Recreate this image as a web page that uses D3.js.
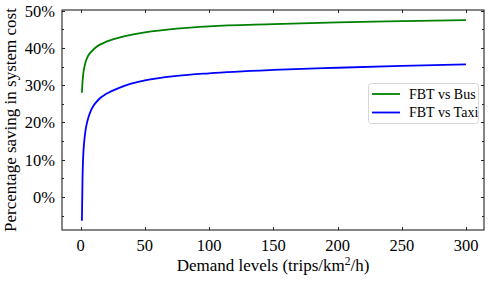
<!DOCTYPE html>
<html>
<head>
<meta charset="utf-8">
<script src="https://cdn.jsdelivr.net/npm/d3@7"></script>
<style>
  body { margin: 0; background: #fff; }
  svg text { font-family: "Liberation Serif", "Times New Roman", serif; fill: #000; }
</style>
</head>
<body>
<div id="chart"></div>
<script>
// demand levels (trips/km2/h) and savings (%)
var demand   = [1, 1.5, 2, 3, 4, 5, 6, 8, 10, 12, 15, 20, 30, 40, 50, 75, 100, 150, 200, 250, 300];
var fbtBus   = [28.0, 31.0, 32.9, 35.0, 36.4, 37.3, 38.0, 38.9, 39.6, 40.2, 40.9, 41.7, 42.8, 43.6, 44.2, 45.2, 45.8, 46.4, 46.9, 47.2, 47.5];
var fbtTaxi  = [-6.4, 5.5, 10.8, 15.6, 18.3, 20.0, 21.3, 23.2, 24.5, 25.4, 26.5, 27.7, 29.3, 30.5, 31.3, 32.5, 33.2, 34.1, 34.7, 35.2, 35.6];
var seriesNames = ["FBT vs Bus", "FBT vs Taxi"];
var seriesColors = ["#008000", "#0000ff"];
var xTicks = [0, 50, 100, 150, 200, 250, 300];
var yTicks = [0, 10, 20, 30, 40, 50];
var yMinor = [-5, 5, 15, 25, 35, 45];

var W = 490, H = 282;
var margin = {top: 10, right: 6, bottom: 52, left: 62},
    width = W - margin.left - margin.right,
    height = H - margin.top - margin.bottom;

var svg = d3.select("#chart")
  .append("svg")
    .attr("width", W)
    .attr("height", H)
  .append("g")
    .attr("transform", "translate(" + margin.left + "," + margin.top + ")");

var x = d3.scaleLinear()
  .domain([-14.5, 314])
  .range([0, width]);

var y = d3.scaleLinear()
  .domain([-8.86, 50.2])
  .range([height, 0]);

// ticks (inward, all four sides)
var tickG = svg.append("g").attr("stroke", "#222").attr("stroke-width", 1);
xTicks.forEach(function(t) {
  var px = Math.round(x(t)) + 0.5;
  tickG.append("line").attr("x1", px).attr("x2", px).attr("y1", height).attr("y2", height - 3);
  tickG.append("line").attr("x1", px).attr("x2", px).attr("y1", 0).attr("y2", 3);
});
yTicks.concat(yMinor).forEach(function(t) {
  var py = Math.round(y(t)) + 0.5;
  var len = yTicks.indexOf(t) >= 0 ? 3 : 2;
  tickG.append("line").attr("x1", 0).attr("x2", len).attr("y1", py).attr("y2", py);
  tickG.append("line").attr("x1", width).attr("x2", width - len).attr("y1", py).attr("y2", py);
});

// tick labels
svg.append("g").selectAll("text")
  .data(xTicks).enter().append("text")
    .attr("x", function(d) { return x(d); })
    .attr("y", height + 20.5)
    .attr("text-anchor", "middle")
    .style("font-size", "16.5px")
    .text(function(d) { return d; });

svg.append("g").selectAll("text")
  .data(yTicks).enter().append("text")
    .attr("x", -7)
    .attr("y", function(d) { return y(d) + 5.8; })
    .attr("text-anchor", "end")
    .style("font-size", "16.5px")
    .text(function(d) { return d + "%"; });

// curves
var line = d3.line()
  .x(function(d) { return x(d[0]); })
  .y(function(d) { return y(d[1]); })
  .curve(d3.curveMonotoneX);

[fbtBus, fbtTaxi].forEach(function(vals, i) {
  svg.append("path")
    .datum(demand.map(function(d, j) { return [d, vals[j]]; }))
    .attr("fill", "none")
    .attr("stroke", seriesColors[i])
    .attr("stroke-width", 1.8)
    .attr("d", line);
});

// frame
svg.append("rect")
  .attr("x", 0).attr("y", 0)
  .attr("width", width).attr("height", height)
  .attr("fill", "none")
  .attr("stroke", "#222")
  .attr("stroke-width", 1.1);

// axis labels
svg.append("text")
  .attr("x", width / 2)
  .attr("y", height + 40.5)
  .attr("text-anchor", "middle")
  .style("font-size", "17px")
  .html('Demand levels (trips/km<tspan dy="-6" style="font-size:11.5px">2</tspan><tspan dy="6">/h)</tspan>');

svg.append("text")
  .attr("transform", "translate(" + (-46) + "," + (height / 2) + ") rotate(-90)")
  .attr("text-anchor", "middle")
  .style("font-size", "17px")
  .text("Percentage saving in system cost");

// legend
var lg = svg.append("g").attr("transform", "translate(" + (368 - margin.left) + "," + (83 - margin.top) + ")");
lg.append("rect")
  .attr("x", 0.5).attr("y", 0.5)
  .attr("width", 110).attr("height", 40)
  .attr("rx", 3)
  .attr("fill", "#fff")
  .attr("stroke", "#d6d6d6");
seriesNames.forEach(function(name, i) {
  var ly = 11 + i * 18.5;
  lg.append("line")
    .attr("x1", 4).attr("x2", 32)
    .attr("y1", ly).attr("y2", ly)
    .attr("stroke", seriesColors[i])
    .attr("stroke-width", 1.8);
  lg.append("text")
    .attr("x", 41)
    .attr("y", ly + 4.5)
    .style("font-size", "14px")
    .text(name);
});
</script>
</body>
</html>
